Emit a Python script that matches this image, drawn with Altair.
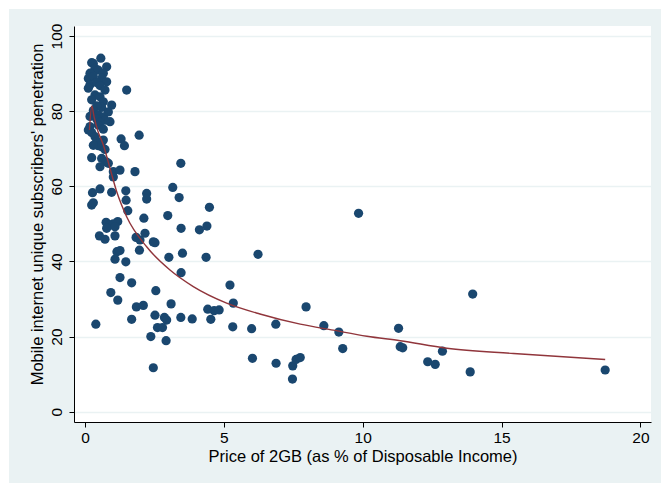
import altair as alt
import pandas as pd

# Price of 2GB as % of disposable income, and mobile internet penetration (%)
price = [
    0.57, 0.24, 0.30, 0.78, 0.36, 0.48, 0.18, 0.66, 0.12, 0.30,
    0.60, 0.78, 0.18, 0.12, 0.42, 0.54, 0.72, 1.50, 0.36, 0.54,
    0.24, 0.66, 0.96, 0.60, 0.42, 0.30, 0.84, 0.48, 0.66, 0.18,
    0.90, 0.72, 0.42, 0.54, 0.18, 0.48, 0.12, 0.66, 0.24, 0.36,
    0.66, 0.42, 1.30, 1.95, 1.42, 0.60, 0.48, 0.30, 0.72, 0.24,
    0.60, 0.76, 0.84, 0.54, 1.02, 1.26, 1.02, 1.80, 3.45, 0.96,
    0.54, 0.27, 1.47, 2.22, 2.22, 1.48, 3.16, 3.39, 0.24, 0.30,
    1.54, 2.12, 2.98, 4.48, 4.39, 4.12, 0.76, 0.90, 1.02, 1.18,
    0.78, 1.08, 0.52, 0.72, 1.08, 1.84, 1.98, 2.16, 2.46, 2.52,
    1.96, 1.15, 1.26, 1.08, 1.47, 3.46, 3.51, 3.02, 4.36, 3.46,
    6.23, 1.26, 1.68, 5.22, 0.93, 1.18, 2.55, 1.85, 2.10, 3.10,
    5.34, 2.52, 2.86, 2.94, 3.45, 3.86, 1.68, 2.61, 2.79, 4.42,
    4.65, 4.83, 4.53, 5.32, 6.00, 6.03, 2.37, 2.92, 2.46, 0.39,
    9.85, 6.87, 7.96, 8.60, 9.14, 9.28, 6.88, 7.48, 7.60, 7.75,
    7.47, 11.29, 11.35, 11.44, 12.34, 12.61, 12.87, 13.87, 13.96, 18.73,
]
penetration = [
    94.1, 92.9, 92.7, 91.8, 91.4, 90.9, 90.1, 90.1, 88.7, 89.2,
    88.7, 87.8, 87.0, 86.1, 87.6, 86.8, 85.6, 85.6, 84.3, 83.8,
    83.0, 82.5, 81.6, 81.0, 81.4, 80.2, 79.8, 79.0, 78.5, 78.6,
    77.2, 77.6, 77.9, 77.0, 75.9, 76.3, 75.0, 75.2, 74.3, 73.2,
    72.3, 71.9, 72.6, 73.6, 70.8, 70.5, 70.8, 70.9, 69.8, 67.6,
    67.4, 66.5, 66.1, 65.2, 63.9, 64.3, 62.5, 63.9, 66.1, 58.4,
    59.3, 58.3, 58.8, 58.1, 56.6, 56.3, 59.7, 57.0, 55.0, 55.6,
    53.5, 51.5, 52.2, 54.4, 49.4, 48.4, 50.4, 49.7, 50.0, 50.6,
    48.8, 49.2, 46.8, 45.9, 46.8, 46.4, 45.7, 47.5, 45.2, 45.0,
    43.0, 42.6, 42.9, 40.6, 39.9, 48.8, 42.2, 41.1, 41.1, 37.0,
    41.9, 35.7, 34.3, 33.7, 31.7, 29.7, 32.2, 27.9, 28.3, 28.7,
    28.9, 25.7, 25.1, 24.4, 25.1, 24.7, 24.6, 22.4, 22.4, 27.3,
    26.9, 27.1, 24.6, 22.6, 22.1, 14.2, 20.0, 18.9, 11.7, 23.3,
    52.8, 23.3, 27.9, 22.9, 21.2, 16.8, 12.9, 12.2, 13.9, 14.4,
    8.7, 22.2, 17.3, 17.0, 13.3, 12.6, 16.1, 10.6, 31.3, 11.1,
]

# Fitted curve
fit_price = [0.16, 0.245, 0.33, 0.45, 0.66, 0.90, 1.14, 1.50, 2.22, 3.06,
             3.90, 5.10, 6.30, 7.75, 8.94, 10.15, 11.35, 13.03, 15.43, 18.73]
fit_pen = [75.0, 81.4, 78.4, 75.0, 71.0, 64.8, 58.6, 51.9, 43.9, 37.7,
           33.3, 28.9, 26.0, 23.3, 21.7, 20.1, 18.9, 16.9, 15.5, 13.9]

x_ticks = [0, 5, 10, 15, 20]
y_ticks = [0, 20, 40, 60, 80, 100]

pts = pd.DataFrame({"price": price, "pen": penetration})
fit = pd.DataFrame({"price": fit_price, "pen": fit_pen})
one = pd.DataFrame({"k": [0]})

W, H = 577, 396
FONT = "Liberation Sans"

xs = alt.Scale(domain=[-0.396, 20.38], nice=False, zero=False)
ys = alt.Scale(domain=[-2.74, 102.66], nice=False, zero=False)

x_enc = alt.X(
    "price:Q", scale=xs,
    axis=alt.Axis(values=x_ticks, title="Price of 2GB (as % of Disposable Income)",
                  grid=False, labelPadding=3, titlePadding=3),
)
y_enc = alt.Y(
    "pen:Q", scale=ys,
    axis=alt.Axis(values=y_ticks, title="Mobile internet unique subscribers' penetration",
                  grid=True, labelAngle=270, labelAlign="center", labelBaseline="bottom",
                  labelPadding=5, titleAngle=270, titleAlign="center",
                  titleBaseline="middle", titleX=-37, titleY=188),
)

# white strips along the top and left edges of the canvas
strip_top = alt.Chart(one).mark_rect(color="white", clip=False).encode(
    x=alt.value(-74), x2=alt.value(W + 10), y=alt.value(-26), y2=alt.value(-17)
)
strip_left = alt.Chart(one).mark_rect(color="white", clip=False).encode(
    x=alt.value(-74), x2=alt.value(-65), y=alt.value(-26), y2=alt.value(H + 61)
)

dots = alt.Chart(pts).mark_circle(size=85, color="#1A476F", opacity=1).encode(
    x=x_enc, y=y_enc
)
curve = alt.Chart(fit).mark_line(color="#90353B", strokeWidth=1.4, interpolate="monotone").encode(
    x=alt.X("price:Q", scale=xs), y=alt.Y("pen:Q", scale=ys)
)

chart = (
    alt.layer(strip_top, strip_left, dots, curve)
    .properties(width=W, height=H, background="#EAF2F3",
                padding={"left": 74, "top": 26, "right": 10, "bottom": 61},
                autosize=alt.AutoSizeParams(type="none"))
    .configure_view(fill="white", stroke=None)
    .configure_axis(
        domainColor="black", domainWidth=1, tickColor="black", tickSize=5, tickWidth=1,
        labelColor="black", labelFont=FONT, labelFontSize=15.5,
        titleColor="black", titleFont=FONT, titleFontSize=16.5, titleFontWeight="normal",
        gridColor="#EAF2F3", gridWidth=1.5,
    )
)

chart.save("out.html", embed_options={"renderer": "svg", "actions": False})
